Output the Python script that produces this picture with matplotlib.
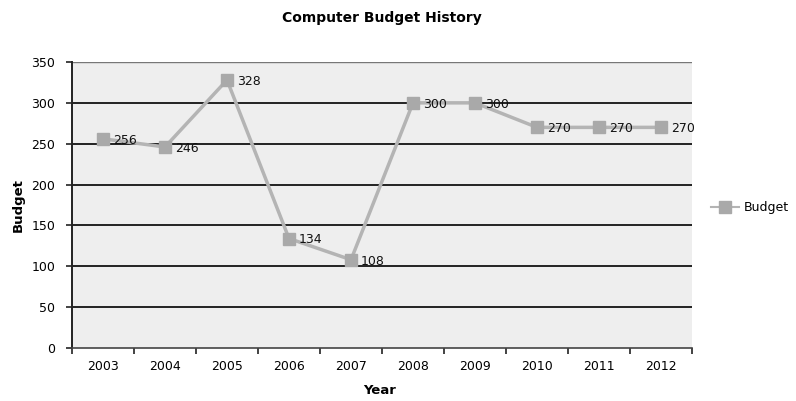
import matplotlib
matplotlib.use("Agg")
import matplotlib.pyplot as plt
from matplotlib.lines import Line2D

years = ["2003", "2004", "2005", "2006", "2007", "2008", "2009", "2010", "2011", "2012"]
budget = [256, 246, 328, 134, 108, 300, 300, 270, 270, 270]
yticks = [0, 50, 100, 150, 200, 250, 300, 350]

fig = plt.figure(figsize=(7.96, 4.01), dpi=100)
ax = fig.add_axes([72/796, 1-348/401, 620/796, 286/401])
ax.set_facecolor("#eeeeee")

x = list(range(len(years)))
ax.set_xlim(-0.5, len(years) - 0.5)
ax.set_ylim(0, 350)

for yv in yticks[1:]:
    ax.axhline(yv, color="#222222" if yv < 350 else "#777777", lw=1.4 if yv < 350 else 1.0, zorder=1)

line_color = "#b4b4b4"
ax.plot(x, budget, color=line_color, lw=2.5, marker="s", markersize=8,
        markerfacecolor="#a9a9a9", markeredgecolor="#a9a9a9", zorder=3)
for xi, v in zip(x, budget):
    ax.annotate(str(v), (xi, v), xytext=(7, -1), textcoords="offset points",
                ha="left", va="center", fontsize=9, color="#111111", zorder=4)

ax.set_yticks(yticks)
ax.set_yticklabels([str(v) for v in yticks], fontsize=9)
ax.set_xticks(x)
ax.set_xticklabels(years, fontsize=9)
ax.tick_params(axis="x", length=0, pad=9)
ax.set_xticks([i - 0.5 for i in range(len(years) + 1)], minor=True)
ax.tick_params(axis="x", which="minor", length=4, width=1.2, color="#222222", direction="out")
ax.tick_params(axis="y", length=4, width=1.2, color="#222222", direction="out", pad=8)

for s in ["top", "right"]:
    ax.spines[s].set_visible(False)
ax.spines["left"].set_color("#222222")
ax.spines["left"].set_linewidth(1.4)
ax.spines["bottom"].set_color("#444444")
ax.spines["bottom"].set_linewidth(1.2)

fig.text(382/796, 1-18/401, "Computer Budget History", ha="center", va="center",
         fontsize=10, fontweight="bold")
fig.text(380/796, 1-391/401, "Year", ha="center", va="center", fontsize=9.5, fontweight="bold")
fig.text(18/796, 1-205/401, "Budget", ha="center", va="center", fontsize=9.5,
         fontweight="bold", rotation=90)

handle = Line2D([], [], color=line_color, lw=1.5, marker="s", markersize=8,
                markerfacecolor="#a9a9a9", markeredgecolor="#a9a9a9")
fig.legend([handle], ["Budget"], loc="center left", bbox_to_anchor=(700/796, 1-208/401),
           frameon=False, fontsize=9, handlelength=2.2, handletextpad=0.4)

fig.savefig("out.png", dpi=100, facecolor="white")
